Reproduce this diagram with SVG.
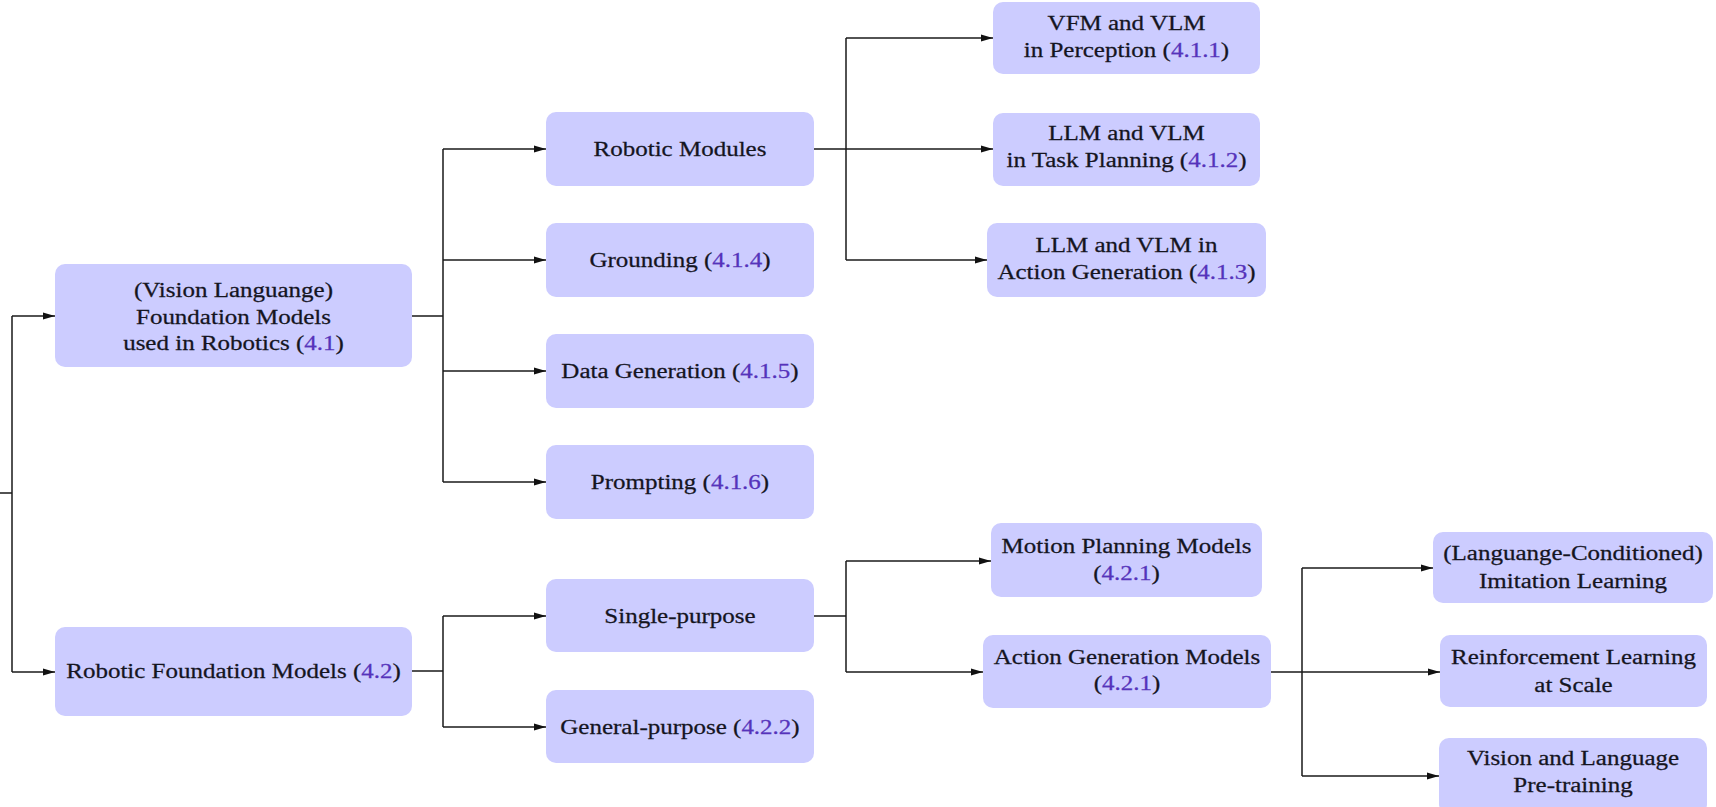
<svg xmlns="http://www.w3.org/2000/svg" width="1716" height="807" viewBox="0 0 1716 807">
  <defs>
    <marker id="arr" viewBox="0 0 12 8" refX="12" refY="4" markerWidth="12" markerHeight="8" markerUnits="userSpaceOnUse" orient="auto">
      <path d="M0 0.6 L12 4 L0 7.4 Z" fill="#111"/>
    </marker>
    <style>
      rect.box { fill: #ccccff; }
      text { font-family: "Liberation Serif", "Times New Roman", serif; font-size: 20px; fill: #15151f; stroke: #15151f; stroke-width: 0.25; text-anchor: middle; }
      tspan.ref { fill: #5533bb; stroke: #5533bb; }
      .wire { fill: none; stroke: #1a1a1a; stroke-width: 1.5; }
      .arrow { fill: none; stroke: #1a1a1a; stroke-width: 1.5; marker-end: url(#arr); }
    </style>
  </defs>
  <rect width="1716" height="807" fill="#ffffff"/>

  <!-- connectors -->
  <g id="connectors">
    <!-- root split -->
    <path class="wire" d="M0 493 H12 M12 316 V672"/>
    <path class="arrow" d="M12 316 H55"/>
    <path class="arrow" d="M12 672 H55"/>
    <!-- foundation models in robotics -->
    <path class="wire" d="M412 316 H443 M443 149 V482"/>
    <path class="arrow" d="M443 149 H546"/>
    <path class="arrow" d="M443 260 H546"/>
    <path class="arrow" d="M443 371 H546"/>
    <path class="arrow" d="M443 482 H546"/>
    <!-- robotic modules -->
    <path class="wire" d="M814 149 H846 M846 38 V260"/>
    <path class="arrow" d="M846 38 H993"/>
    <path class="arrow" d="M846 149 H993"/>
    <path class="arrow" d="M846 260 H987"/>
    <!-- robotic foundation models -->
    <path class="wire" d="M412 671 H443 M443 616 V727"/>
    <path class="arrow" d="M443 616 H546"/>
    <path class="arrow" d="M443 727 H546"/>
    <!-- single-purpose -->
    <path class="wire" d="M814 616 H846 M846 561 V672"/>
    <path class="arrow" d="M846 561 H991"/>
    <path class="arrow" d="M846 672 H983"/>
    <!-- action generation models -->
    <path class="wire" d="M1271 672 H1302 M1302 568 V776"/>
    <path class="arrow" d="M1302 568 H1433"/>
    <path class="arrow" d="M1302 672 H1440"/>
    <path class="arrow" d="M1302 776 H1439"/>
  </g>

  <!-- level 1 -->
  <g id="fm-robotics">
    <rect class="box" x="55" y="264" width="357" height="103" rx="10"/>
    <g transform="translate(233.5 0) scale(1.25 1)">
      <text x="0" y="297">(Vision Languange)</text>
      <text x="0" y="324">Foundation Models</text>
      <text x="0" y="350">used in Robotics (<tspan class="ref">4.1</tspan>)</text>
    </g>
  </g>
  <g id="robotic-fm">
    <rect class="box" x="55" y="627" width="357" height="89" rx="10"/>
    <g transform="translate(233.5 0) scale(1.25 1)">
      <text x="0" y="678">Robotic Foundation Models (<tspan class="ref">4.2</tspan>)</text>
    </g>
  </g>

  <!-- level 2 -->
  <g id="robotic-modules">
    <rect class="box" x="546" y="112" width="268" height="74" rx="10"/>
    <g transform="translate(680 0) scale(1.25 1)"><text x="0" y="156">Robotic Modules</text></g>
  </g>
  <g id="grounding">
    <rect class="box" x="546" y="223" width="268" height="74" rx="10"/>
    <g transform="translate(680 0) scale(1.25 1)"><text x="0" y="267">Grounding (<tspan class="ref">4.1.4</tspan>)</text></g>
  </g>
  <g id="data-generation">
    <rect class="box" x="546" y="334" width="268" height="74" rx="10"/>
    <g transform="translate(680 0) scale(1.25 1)"><text x="0" y="378">Data Generation (<tspan class="ref">4.1.5</tspan>)</text></g>
  </g>
  <g id="prompting">
    <rect class="box" x="546" y="445" width="268" height="74" rx="10"/>
    <g transform="translate(680 0) scale(1.25 1)"><text x="0" y="489">Prompting (<tspan class="ref">4.1.6</tspan>)</text></g>
  </g>
  <g id="single-purpose">
    <rect class="box" x="546" y="579" width="268" height="73" rx="10"/>
    <g transform="translate(680 0) scale(1.25 1)"><text x="0" y="623">Single-purpose</text></g>
  </g>
  <g id="general-purpose">
    <rect class="box" x="546" y="690" width="268" height="73" rx="10"/>
    <g transform="translate(680 0) scale(1.25 1)"><text x="0" y="734">General-purpose (<tspan class="ref">4.2.2</tspan>)</text></g>
  </g>

  <!-- level 3 -->
  <g id="perception">
    <rect class="box" x="993" y="2" width="267" height="72" rx="10"/>
    <g transform="translate(1126.5 0) scale(1.25 1)">
      <text x="0" y="30">VFM and VLM</text>
      <text x="0" y="57">in Perception (<tspan class="ref">4.1.1</tspan>)</text>
    </g>
  </g>
  <g id="task-planning">
    <rect class="box" x="993" y="113" width="267" height="73" rx="10"/>
    <g transform="translate(1126.5 0) scale(1.25 1)">
      <text x="0" y="140">LLM and VLM</text>
      <text x="0" y="167">in Task Planning (<tspan class="ref">4.1.2</tspan>)</text>
    </g>
  </g>
  <g id="action-generation-llm">
    <rect class="box" x="987" y="223" width="279" height="74" rx="10"/>
    <g transform="translate(1126.5 0) scale(1.25 1)">
      <text x="0" y="252">LLM and VLM in</text>
      <text x="0" y="279">Action Generation (<tspan class="ref">4.1.3</tspan>)</text>
    </g>
  </g>
  <g id="motion-planning">
    <rect class="box" x="991" y="523" width="271" height="74" rx="10"/>
    <g transform="translate(1126.5 0) scale(1.25 1)">
      <text x="0" y="553">Motion Planning Models</text>
      <text x="0" y="580">(<tspan class="ref">4.2.1</tspan>)</text>
    </g>
  </g>
  <g id="action-generation-models">
    <rect class="box" x="983" y="635" width="288" height="73" rx="10"/>
    <g transform="translate(1127 0) scale(1.25 1)">
      <text x="0" y="664">Action Generation Models</text>
      <text x="0" y="690">(<tspan class="ref">4.2.1</tspan>)</text>
    </g>
  </g>

  <!-- level 4 -->
  <g id="imitation-learning">
    <rect class="box" x="1433" y="532" width="280" height="71" rx="10"/>
    <g transform="translate(1573 0) scale(1.25 1)">
      <text x="0" y="560">(Languange-Conditioned)</text>
      <text x="0" y="588">Imitation Learning</text>
    </g>
  </g>
  <g id="reinforcement-learning">
    <rect class="box" x="1440" y="635" width="267" height="72" rx="10"/>
    <g transform="translate(1573.5 0) scale(1.25 1)">
      <text x="0" y="664">Reinforcement Learning</text>
      <text x="0" y="692">at Scale</text>
    </g>
  </g>
  <g id="vl-pretraining">
    <rect class="box" x="1439" y="738" width="268" height="76" rx="10"/>
    <g transform="translate(1573 0) scale(1.25 1)">
      <text x="0" y="765">Vision and Language</text>
      <text x="0" y="792">Pre-training</text>
    </g>
  </g>
</svg>
